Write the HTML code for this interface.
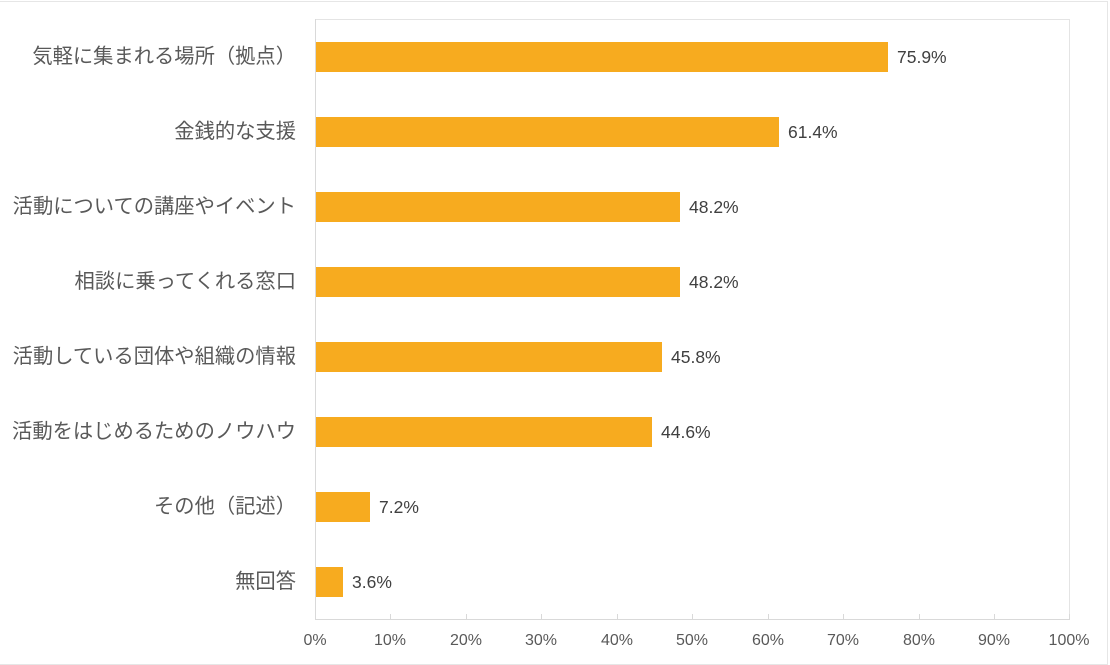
<!DOCTYPE html>
<html><head><meta charset="utf-8"><style>
html,body{margin:0;padding:0;background:#fff}
body{width:1110px;height:665px;position:relative;overflow:hidden;font-family:"Liberation Sans","Noto Sans CJK JP",sans-serif}
.frame{position:absolute;left:0;top:1px;width:1107px;height:662px;border:1px solid #e6e6e6;border-left:none}
.plot{position:absolute;left:315px;top:19px;width:754px;height:600px;border-top:1px solid #e4e4e4;border-right:1px solid #e4e4e4}
.yax{position:absolute;left:315px;top:19px;width:1px;height:601px;background:#d9d9d9}
.xax{position:absolute;left:315px;top:619px;width:755px;height:1px;background:#d9d9d9}
.tick{position:absolute;top:614px;width:1px;height:5px;background:#d9d9d9}
.bar{position:absolute;left:316px;height:30px;background:#f7ab1f}
.val{position:absolute;font-size:17.5px;color:#404040;line-height:30px}
.cat{position:absolute;right:814px;font-size:20.3px;color:#595959;line-height:30px;white-space:nowrap}
.xl{position:absolute;top:632px;font-size:16px;color:#595959;transform:translateX(-50%)}
</style></head><body>
<div class="frame"></div>
<div class="plot"></div>
<div class="yax"></div><div class="xax"></div>

<div class="cat" style="top:42px">気軽に集まれる場所（拠点）</div>
<div class="bar" style="top:42px;width:572px"></div><div class="val" style="top:42px;left:897px">75.9%</div>

<div class="cat" style="top:117px">金銭的な支援</div>
<div class="bar" style="top:117px;width:463px"></div><div class="val" style="top:117px;left:788px">61.4%</div>

<div class="cat" style="top:192px">活動についての講座やイベント</div>
<div class="bar" style="top:192px;width:364px"></div><div class="val" style="top:192px;left:689px">48.2%</div>

<div class="cat" style="top:267px">相談に乗ってくれる窓口</div>
<div class="bar" style="top:267px;width:364px"></div><div class="val" style="top:267px;left:689px">48.2%</div>

<div class="cat" style="top:342px">活動している団体や組織の情報</div>
<div class="bar" style="top:342px;width:346px"></div><div class="val" style="top:342px;left:671px">45.8%</div>

<div class="cat" style="top:417px">活動をはじめるためのノウハウ</div>
<div class="bar" style="top:417px;width:336px"></div><div class="val" style="top:417px;left:661px">44.6%</div>

<div class="cat" style="top:492px">その他（記述）</div>
<div class="bar" style="top:492px;width:54px"></div><div class="val" style="top:492px;left:379px">7.2%</div>

<div class="cat" style="top:567px">無回答</div>
<div class="bar" style="top:567px;width:27px"></div><div class="val" style="top:567px;left:352px">3.6%</div>

<div class="tick" style="left:390px"></div><div class="tick" style="left:466px"></div><div class="tick" style="left:541px"></div><div class="tick" style="left:617px"></div><div class="tick" style="left:692px"></div><div class="tick" style="left:768px"></div><div class="tick" style="left:843px"></div><div class="tick" style="left:919px"></div><div class="tick" style="left:994px"></div><div class="tick" style="left:1069px"></div>

<div class="xl" style="left:315px">0%</div><div class="xl" style="left:390px">10%</div><div class="xl" style="left:466px">20%</div><div class="xl" style="left:541px">30%</div><div class="xl" style="left:617px">40%</div><div class="xl" style="left:692px">50%</div><div class="xl" style="left:768px">60%</div><div class="xl" style="left:843px">70%</div><div class="xl" style="left:919px">80%</div><div class="xl" style="left:994px">90%</div><div class="xl" style="left:1069px">100%</div>
</body></html>
